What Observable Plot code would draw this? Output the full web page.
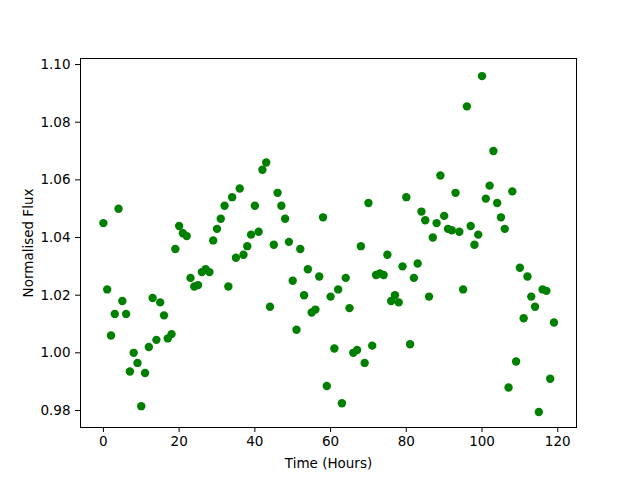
<!DOCTYPE html>
<html>
<head>
<meta charset="utf-8">
<script src="https://cdn.jsdelivr.net/npm/d3@7"></script>
<script src="https://cdn.jsdelivr.net/npm/@observablehq/plot@0.6"></script>
<style>
body { margin: 0; background: white; }
svg { font-family: "DejaVu Sans", sans-serif; }
</style>
</head>
<body>
<div id="chart"></div>
<script>
const flux = [
1.045, 1.022, 1.006, 1.0135, 1.050, 1.018, 1.0135, 0.9935, 1.000, 0.9965,
0.9815, 0.993, 1.002, 1.019, 1.0045, 1.0175, 1.013, 1.005, 1.0065, 1.036,
1.044, 1.0415, 1.0405, 1.026, 1.023, 1.0235, 1.028, 1.029, 1.028, 1.039,
1.043, 1.0465, 1.051, 1.023, 1.054, 1.033, 1.057, 1.034, 1.037, 1.041,
1.051, 1.042, 1.0635, 1.066, 1.016, 1.0375, 1.0555, 1.051, 1.0465, 1.0385,
1.025, 1.008, 1.036, 1.020, 1.029, 1.014, 1.015, 1.0265, 1.047, 0.9885,
1.0195, 1.0015, 1.022, 0.9825, 1.026, 1.0155, 1.000, 1.001, 1.037, 0.9965,
1.052, 1.0025, 1.027, 1.0275, 1.027, 1.034, 1.018, 1.020, 1.0175, 1.030,
1.054, 1.003, 1.026, 1.031, 1.049, 1.046, 1.0195, 1.040, 1.045, 1.0615,
1.0475, 1.043, 1.0425, 1.0555, 1.042, 1.022, 1.0855, 1.044, 1.0375, 1.041,
1.096, 1.0535, 1.058, 1.070, 1.052, 1.047, 1.043, 0.988, 1.056, 0.997,
1.0295, 1.012, 1.0265, 1.0195, 1.016, 0.9795, 1.022, 1.0215, 0.991, 1.0105
];
const hours = flux.map((_, i) => i);
const xTicks = [0, 20, 40, 60, 80, 100, 120];
const yTicks = [0.98, 1.00, 1.02, 1.04, 1.06, 1.08, 1.10];
const data = hours.map((t, i) => ({t, f: flux[i]}));

const chart = Plot.plot({
  width: 640,
  height: 480,
  marginLeft: 80,
  marginRight: 64,
  marginTop: 58,
  marginBottom: 53,
  style: {fontSize: "13.5px", fontFamily: "DejaVu Sans, sans-serif", background: "white", color: "black"},
  x: {domain: [-6.05, 124.95]},
  y: {domain: [0.9741, 1.1021]},
  marks: [
    Plot.dot(data, {x: "t", y: "f", r: 4.2, fill: "#008000", stroke: "none"}),
    Plot.frame({stroke: "black", strokeWidth: 1}),
    Plot.axisX({ticks: xTicks, tickSize: 5, tickPadding: 4, tickFormat: d => String(d),
      label: "Time (Hours)", labelAnchor: "center", labelArrow: "none", labelOffset: 40}),
    Plot.axisY({ticks: yTicks, tickSize: 5, tickPadding: 5, tickFormat: d => d.toFixed(2),
      label: "Normalised Flux", labelAnchor: "center", labelArrow: "none", labelOffset: 57})
  ]
});
document.getElementById("chart").appendChild(chart);
</script>
</body>
</html>
